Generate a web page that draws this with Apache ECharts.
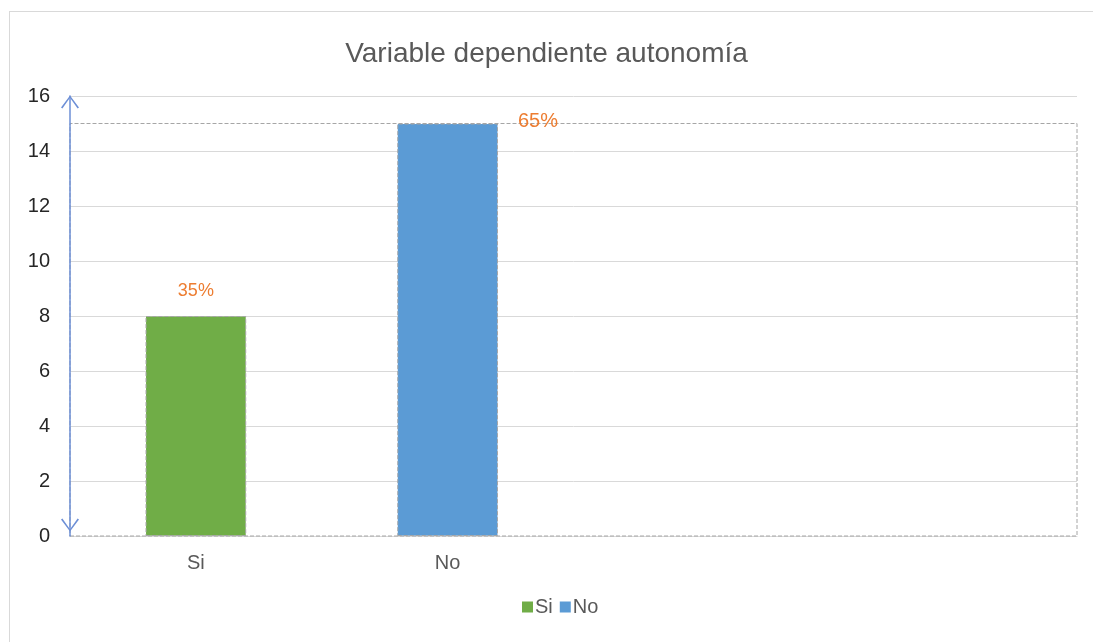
<!DOCTYPE html>
<html>
<head>
<meta charset="utf-8">
<title>Variable dependiente autonomía</title>
<script src="https://cdn.jsdelivr.net/npm/echarts@6/dist/echarts.min.js"></script>
<style>
  html, body { margin: 0; padding: 0; overflow: hidden; background: #fff; }
  #frame { position: absolute; left: 9px; top: 11px; width: 1200px; height: 700px; border: 1px solid #d9d9d9; }
  #chart { position: absolute; left: 0; top: 0; width: 1093px; height: 642px; }
</style>
</head>
<body>
<div id="frame"></div>
<div id="chart"></div>
<script>
  // datos
  let categories = ['Si', 'No', '', ''];
  let siValues = [8, '-', '-', '-'];
  let noValues = ['-', 15, '-', '-'];
  let pctLabels = ['35%', '65%'];
  let yTicks = { min: 0, max: 16, interval: 2 };

  let font = 'Liberation Sans, Arial, sans-serif';
  let grayText = '#595959';
  let orange = '#ED7D31';
  let barBorder = { borderColor: '#a6a6a6', borderWidth: 1, borderType: 'dashed' };

  // flecha abierta (chevron)
  let chevron = 'path://M0,12 L9,0 L18,12 L16.6,12.8 L9,2.2 L1.4,12.8 Z';

  let noMax = Math.max.apply(null, noValues.filter(function (v) { return v !== '-'; }));

  let chart = echarts.init(document.getElementById('chart'));
  let option = {
    animation: false,
    textStyle: { fontFamily: font },
    title: {
      text: 'Variable dependiente autonomía',
      left: 'center',
      top: 35,
      textStyle: { fontSize: 28, fontWeight: 'normal', color: grayText, fontFamily: font }
    },
    legend: {
      data: ['Si', 'No'],
      bottom: 20,
      left: 517,
      itemWidth: 11,
      itemHeight: 11,
      itemGap: 7,
      icon: 'rect',
      itemStyle: { borderWidth: 0 },
      textStyle: { fontSize: 20, color: grayText, padding: [0, 0, 0, -3] }
    },
    grid: {
      left: 70,
      right: 16,
      top: 96,
      bottom: 106,
      containLabel: false
    },
    xAxis: {
      type: 'category',
      data: categories,
      axisLine: { show: true, lineStyle: { color: '#d9d9d9', width: 1 } },
      axisTick: { show: false },
      axisLabel: { color: grayText, fontSize: 20, margin: 17 }
    },
    yAxis: [
      {
        type: 'value',
        min: yTicks.min,
        max: yTicks.max,
        interval: yTicks.interval,
        axisLine: { show: false },
        axisTick: { show: false },
        axisLabel: { color: '#262626', fontSize: 20, margin: 20 },
        splitLine: { lineStyle: { color: '#d9d9d9', width: 1 } }
      },
      {
        // solo la linea azul con flechas, por encima de todo
        type: 'value',
        position: 'left',
        min: yTicks.min,
        max: yTicks.max,
        interval: yTicks.interval,
        z: 5,
        axisLine: {
          show: true,
          symbol: [chevron, chevron],
          symbolSize: [18, 13],
          symbolOffset: [11, -6],
          lineStyle: { color: '#6d8fd6', width: 1.5 }
        },
        axisTick: { show: false },
        axisLabel: { show: false },
        splitLine: { show: false }
      }
    ],
    series: [
      {
        name: 'Si',
        type: 'bar',
        stack: 'total',
        barWidth: '40%',
        data: siValues,
        itemStyle: Object.assign({ color: '#70AD47' }, barBorder),
        label: {
          show: true,
          position: 'top',
          distance: 16,
          color: orange,
          fontSize: 18,
          formatter: function () { return pctLabels[0]; }
        }
      },
      {
        name: 'No',
        type: 'bar',
        stack: 'total',
        barWidth: '40%',
        data: noValues,
        itemStyle: Object.assign({ color: '#5B9BD5' }, barBorder),
        label: {
          show: true,
          position: ['100%', 0],
          align: 'left',
          verticalAlign: 'middle',
          offset: [20, -2],
          color: orange,
          fontSize: 20,
          formatter: function () { return pctLabels[1]; }
        },
        markArea: {
          silent: true,
          itemStyle: { color: 'rgba(0,0,0,0)', borderColor: '#a6a6a6', borderWidth: 1, borderType: 'dashed' },
          data: [[{ yAxis: 0 }, { yAxis: noMax }]]
        }
      }
    ]
  };
  chart.setOption(option);
</script>
</body>
</html>
